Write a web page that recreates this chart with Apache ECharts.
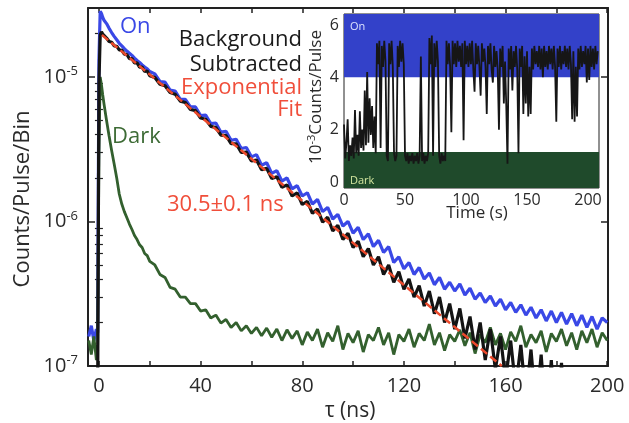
<!DOCTYPE html>
<html><head><meta charset="utf-8">
<script src="https://cdn.jsdelivr.net/npm/echarts@6/dist/echarts.min.js"></script>
<style>html,body{margin:0;padding:0;background:#fff}#c{width:629px;height:423px}</style>
</head><body><div id="c"></div>
<script>
// ---------- main decay plot data ----------
const tauNs = [-4,-3,-2,-1,-0.5,0,0.5,1,1.5,2,
  3,4,5,6,7,8,9,10,11,12,13,14,15,16,17,18,19,20,
  22,24,26,28,30,32,34,36,38,40,42,44,46,48,50,52,54,56,58,60,
  62,64,66,68,70,72,74,76,78,80,82,84,86,88,90,92,94,96,98,100,
  102,104,106,108,110,112,114,116,118,120,122,124,126,128,130,132,134,136,138,140,
  142,144,146,148,150,152,154,156,158,160,162,164,166,168,170,172,174,176,178,180,
  182,184,186,188,190,192,194,196,198,200];

const onCounts = [1.6e-7,1.9e-7,1.5e-7,1.8e-7,1.7e-7,1.3e-5,2.85e-5,2.75e-5,2.58e-5,2.47e-5,
  2.34e-5,2.17e-5,2.03e-5,1.91e-5,1.81e-5,1.71e-5,1.64e-5,1.57e-5,1.51e-5,1.46e-5,1.41e-5,1.35e-5,1.30e-5,1.26e-5,1.21e-5,1.17e-5,1.14e-5,1.09e-5,
  1.05e-5,9.3e-6,9.2e-6,8.1e-6,8.0e-6,7.0e-6,7.0e-6,6.2e-6,6.2e-6,5.4e-6,
  5.45e-6,4.75e-6,4.8e-6,4.15e-6,4.2e-6,3.65e-6,3.7e-6,3.2e-6,3.25e-6,2.8e-6,
  2.9e-6,2.45e-6,2.55e-6,2.15e-6,2.25e-6,1.9e-6,2.0e-6,1.68e-6,1.77e-6,1.5e-6,
  1.58e-6,1.32e-6,1.42e-6,1.17e-6,1.25e-6,1.04e-6,1.12e-6,9.3e-7,1.0e-6,8.3e-7,
  9.1e-7,7.5e-7,8.2e-7,6.7e-7,7.4e-7,6.1e-7,6.7e-7,5.2e-7,5.7e-7,4.7e-7,
  5.2e-7,4.3e-7,4.8e-7,4.0e-7,4.4e-7,3.65e-7,4.1e-7,3.4e-7,3.8e-7,3.3e-7,
  3.7e-7,3.1e-7,3.45e-7,2.9e-7,3.2e-7,2.75e-7,3.05e-7,2.6e-7,2.9e-7,2.45e-7,
  2.75e-7,2.35e-7,2.65e-7,2.25e-7,2.55e-7,2.15e-7,2.45e-7,2.05e-7,2.4e-7,2.0e-7,
  2.35e-7,1.95e-7,2.3e-7,1.9e-7,2.25e-7,1.85e-7,2.2e-7,1.8e-7,2.15e-7,2.0e-7];

const darkCounts = [1.5e-7,1.2e-7,1.6e-7,1.1e-7,1.4e-7,3.0e-6,1.0e-5,8.8e-6,7.5e-6,6.5e-6,
  5.0e-6,3.9e-6,3.1e-6,2.5e-6,2.0e-6,1.55e-6,1.32e-6,1.17e-6,1.06e-6,9.6e-7,8.8e-7,8.0e-7,7.5e-7,6.9e-7,6.6e-7,6.0e-7,5.8e-7,5.3e-7,
  5.0e-7,4.3e-7,4.1e-7,3.5e-7,3.4e-7,3.0e-7,3.0e-7,2.7e-7,2.7e-7,2.4e-7,
  2.45e-7,2.15e-7,2.25e-7,1.98e-7,2.1e-7,1.85e-7,2.0e-7,1.75e-7,1.9e-7,1.68e-7,
  1.85e-7,1.62e-7,1.83e-7,1.58e-7,1.8e-7,1.5e-7,1.78e-7,1.55e-7,1.75e-7,1.4e-7,
  1.72e-7,1.5e-7,1.8e-7,1.35e-7,1.7e-7,1.48e-7,1.9e-7,1.3e-7,1.68e-7,1.45e-7,
  1.75e-7,1.25e-7,1.65e-7,1.5e-7,1.85e-7,1.4e-7,1.7e-7,1.2e-7,1.65e-7,1.48e-7,
  1.8e-7,1.35e-7,1.68e-7,1.5e-7,1.95e-7,1.4e-7,1.7e-7,1.28e-7,1.65e-7,1.48e-7,
  1.78e-7,1.38e-7,1.7e-7,1.22e-7,1.65e-7,1.45e-7,1.85e-7,1.4e-7,1.68e-7,1.3e-7,
  1.72e-7,1.48e-7,1.9e-7,1.35e-7,1.65e-7,1.45e-7,1.75e-7,1.25e-7,1.68e-7,1.48e-7,
  1.8e-7,1.38e-7,1.7e-7,1.3e-7,1.75e-7,1.45e-7,1.8e-7,1.35e-7,1.7e-7,1.5e-7];

const bgSubCounts = [4e-8,3e-8,5e-8,4e-8,6e-8,9e-6,1.95e-5,2.05e-5,1.98e-5,1.96e-5,
  1.86e-5,1.76e-5,1.74e-5,1.64e-5,1.63e-5,1.54e-5,1.53e-5,1.44e-5,1.43e-5,1.34e-5,1.34e-5,1.25e-5,1.25e-5,1.17e-5,1.17e-5,1.09e-5,1.10e-5,1.02e-5,
  9.9e-6,8.9e-6,8.7e-6,7.8e-6,7.6e-6,6.8e-6,6.65e-6,5.95e-6,5.85e-6,5.2e-6,
  5.1e-6,4.55e-6,4.47e-6,3.96e-6,3.93e-6,3.45e-6,3.45e-6,3.0e-6,3.02e-6,2.62e-6,
  2.66e-6,2.28e-6,2.33e-6,1.98e-6,2.04e-6,1.72e-6,1.79e-6,1.50e-6,1.58e-6,1.31e-6,
  1.38e-6,1.14e-6,1.22e-6,9.9e-7,1.07e-6,8.6e-7,9.4e-7,7.5e-7,8.3e-7,6.6e-7,
  7.3e-7,5.7e-7,6.5e-7,5.0e-7,5.7e-7,4.3e-7,5.0e-7,3.8e-7,4.5e-7,3.4e-7,
  4.0e-7,3.0e-7,3.6e-7,2.6e-7,3.3e-7,2.3e-7,3.0e-7,2.0e-7,2.7e-7,1.8e-7,
  2.5e-7,1.55e-7,2.2e-7,1.3e-7,2.0e-7,1.1e-7,1.8e-7,9.5e-8,1.6e-7,8e-8,
  1.5e-7,7e-8,1.4e-7,6e-8,1.3e-7,5e-8,1.2e-7,4e-8,1.1e-7,3e-8,
  1.05e-7,3e-8,2e-8,2e-8,1.5e-8,2e-8,1e-8,2e-8,1e-8,2e-8];

const fitTauNs = [1.2, 158.5];
const fitCounts = [1.95e-5, 1.0e-7];

const xTickValues = [0,20,40,60,80,100,120,140,160,180,200];
const xLabelValues = [0,40,80,120,160,200];
const yMinorTickValues = [2e-7,3e-7,4e-7,5e-7,6e-7,7e-7,8e-7,9e-7,2e-6,3e-6,4e-6,5e-6,6e-6,7e-6,8e-6,9e-6,2e-5];

// ---------- inset time trace data ----------
const traceCounts = [
  2.2,0.9,1.5,2.4,0.8,1.4,1.0,1.7,0.9,2.75,
  1.1,1.8,1.0,2.7,1.3,2.0,1.2,3.5,1.4,4.2,
  1.5,3.2,1.8,2.9,1.3,2.5,1.1,5.3,4.5,5.4,
  1.3,5.2,4.4,5.4,4.6,1.0,0.8,5.3,4.5,5.4,
  4.4,1.1,0.8,1.0,5.2,4.4,5.4,4.6,5.3,4.5,
  1.0,0.8,1.1,0.7,1.0,0.8,1.1,0.7,1.0,0.8,
  1.1,0.7,1.0,4.8,0.8,1.1,0.7,1.0,0.8,1.1,
  5.5,4.5,5.6,1.0,5.3,4.4,5.4,4.6,1.0,0.7,
  1.1,0.8,1.0,0.8,5.4,4.5,5.3,4.4,1.9,5.4,
  4.5,5.3,4.4,5.4,4.6,5.2,4.4,5.3,1.6,5.4,
  4.5,5.2,4.4,5.3,4.5,5.4,4.3,3.45,5.3,4.5,
  5.2,4.4,3.3,5.3,4.6,5.1,4.4,2.6,5.2,4.5,
  5.3,4.3,3.8,5.2,4.4,5.0,4.3,2.0,5.1,4.4,
  5.2,3.0,4.6,2.9,0.7,5.1,4.3,5.2,3.5,5.0,
  4.4,5.2,4.3,1.1,5.1,4.4,5.2,2.6,4.8,3.0,
  5.0,2.5,4.4,2.6,5.1,4.3,5.2,4.5,5.0,4.4,
  5.2,4.3,5.1,4.0,5.2,4.4,5.0,4.3,5.2,4.5,
  5.1,4.3,5.2,4.4,2.3,5.1,4.4,5.2,4.3,5.0,
  4.5,5.2,4.4,5.1,4.3,5.2,4.5,2.4,5.0,2.3,
  4.4,2.5,5.1,4.3,5.2,4.4,5.0,4.5,5.2,3.8,
  5.1,3.9,5.2,4.4,5.1,4.3,5.2,4.5,5.0];
const traceTimeS = traceCounts.map((_, i) => i); // 1 s bins
const insetXLabels = [0,50,100,150,200];
const insetYLabels = [0,2,4,6];
const onLevel = 4.0, darkLevel = 1.15, insetYMin = -0.23, insetYMax = 6.42;

// ---------- chart ----------
const FONT = "'Open Sans', 'DejaVu Sans', sans-serif";
const AX = '#222';
const pairs = (xs, ys) => xs.map((x, i) => [x, ys[i]]);
const lg = v => Math.log10(v);

const mainX = (pos, labels) => ({
  type: 'value', gridIndex: 0, min: -4.3, max: 200.3, position: pos,
  axisLine: { show: true, onZero: false, lineStyle: { color: AX, width: 2 } },
  axisTick: { show: true, inside: true, length: 5, customValues: xTickValues, lineStyle: { color: AX, width: 1.5 } },
  axisLabel: labels ? { customValues: xLabelValues, fontSize: 20, color: '#2a2a2a', fontFamily: FONT, margin: 10 } : { show: false },
  splitLine: { show: false }
});
const powFmt = v => {
  const e = Math.round(Math.log10(v));
  if (Math.abs(v / Math.pow(10, e) - 1) > 1e-6) return '';
  return '{b|10}{s|' + e + '}';
};
const mainYLog = (pos, labels) => ({
  type: 'log', logBase: 10, gridIndex: 0, min: 1e-7, max: 3e-5, position: pos,
  axisLine: { show: true, onZero: false, lineStyle: { color: AX, width: 2 } },
  axisTick: { show: true, inside: true, length: 7, lineStyle: { color: AX, width: 1.5 } },
  axisLabel: labels ? {
    formatter: powFmt, margin: 10, color: '#2a2a2a',
    rich: { b: { fontSize: 20, fontFamily: FONT, color: '#2a2a2a', lineHeight: 24 },
            s: { fontSize: 13, fontFamily: FONT, color: '#2a2a2a', lineHeight: 13, verticalAlign: 'top' } }
  } : { show: false },
  splitLine: { show: false }, minorTick: { show: false }
});
const mainYMinor = (pos) => ({
  type: 'value', gridIndex: 0, min: -7, max: lg(3e-5), position: pos,
  axisLine: { show: false },
  axisTick: { show: true, inside: true, length: 4, customValues: yMinorTickValues.map(lg), lineStyle: { color: AX, width: 1.2 } },
  axisLabel: { show: false }, splitLine: { show: false }
});

const txt = (text, x, y, color, size, extra) => Object.assign({
  type: 'text', x: x, y: y, z: 100,
  style: Object.assign({ text: text, fill: color, fontSize: size, fontFamily: FONT,
    align: 'left', textAlign: 'left', verticalAlign: 'middle', textVerticalAlign: 'middle' }, (extra && extra.style) || {})
}, extra ? { rotation: extra.rotation || 0 } : {});

const option = {
  animation: false,
  backgroundColor: '#fff',
  grid: [
    { left: 88, top: 8, width: 520, height: 358, show: false },
    { left: 344, top: 14, width: 255, height: 174, show: true, borderColor: '#222', borderWidth: 1, backgroundColor: 'transparent' }
  ],
  xAxis: [
    mainX('bottom', true),
    mainX('top', false),
    { type: 'value', gridIndex: 1, min: 0, max: 209,
      axisLine: { show: false }, axisTick: { show: false },
      axisLabel: { customValues: insetXLabels, fontSize: 16, color: '#2a2a2a', fontFamily: FONT, margin: 4 },
      splitLine: { show: false } }
  ],
  yAxis: [
    mainYLog('left', true),
    mainYMinor('left'),
    mainYLog('right', false),
    mainYMinor('right'),
    { type: 'value', gridIndex: 1, min: insetYMin, max: insetYMax,
      axisLine: { show: false }, axisTick: { show: false },
      axisLabel: { customValues: insetYLabels, fontSize: 16, color: '#2a2a2a', fontFamily: FONT, margin: 5 },
      splitLine: { show: false } }
  ],
  series: [
    { name: 'On', type: 'line', xAxisIndex: 0, yAxisIndex: 0, data: pairs(tauNs, onCounts),
      showSymbol: false, lineStyle: { color: '#3a48e6', width: 3.2 }, z: 2 },
    { name: 'Dark', type: 'line', xAxisIndex: 0, yAxisIndex: 0, data: pairs(tauNs, darkCounts),
      showSymbol: false, lineStyle: { color: '#33602e', width: 2.8 }, z: 3 },
    { name: 'Background Subtracted', type: 'line', xAxisIndex: 0, yAxisIndex: 0, data: pairs(tauNs, bgSubCounts),
      showSymbol: false, lineStyle: { color: '#141414', width: 3.2 }, z: 4 },
    { name: 'Exponential Fit', type: 'line', xAxisIndex: 0, yAxisIndex: 0, data: pairs(fitTauNs, fitCounts),
      showSymbol: false, lineStyle: { color: '#ec4a2c', width: 2.5, type: [8, 4] }, z: 5 },
    { name: 'Trace', type: 'line', xAxisIndex: 2, yAxisIndex: 4, data: pairs(traceTimeS, traceCounts),
      showSymbol: false, lineStyle: { color: '#161616', width: 1.8 }, z: 6,
      markArea: { silent: true, data: [
        [{ yAxis: insetYMin, itemStyle: { color: '#1f4a2b' } }, { yAxis: darkLevel }],
        [{ yAxis: onLevel, itemStyle: { color: '#3341c9' } }, { yAxis: insetYMax }]
      ] } }
  ],
  graphic: [
    txt('On', 120, 27, '#3a48e6', 22),
    txt('Background', 302, 40, '#1a1a1a', 22, { style: { align: 'right', textAlign: 'right' } }),
    txt('Subtracted', 302, 65, '#1a1a1a', 22, { style: { align: 'right', textAlign: 'right' } }),
    txt('Exponential', 302, 88, '#f04e3a', 22, { style: { align: 'right', textAlign: 'right' } }),
    txt('Fit', 302, 110, '#f04e3a', 22, { style: { align: 'right', textAlign: 'right' } }),
    txt('Dark', 112, 137, '#3d6b35', 22),
    txt('30.5±0.1 ns', 167, 205, '#f04e3a', 22),
    txt('τ (ns)', 350, 411, '#2a2a2a', 21, { style: { align: 'center', textAlign: 'center' } }),
    txt('Counts/Pulse/Bin', 23, 199, '#2a2a2a', 22, { rotation: Math.PI / 2, style: { align: 'center', textAlign: 'center' } }),
    { type: 'text', x: 316, y: 97, rotation: Math.PI / 2, z: 100,
      style: { text: '{a|10}{s|-3}{a|Counts/Pulse}', align: 'center', textAlign: 'center', verticalAlign: 'middle', textVerticalAlign: 'middle',
        rich: { a: { fontSize: 17, fontFamily: FONT, fill: '#2a2a2a', color: '#2a2a2a', lineHeight: 20 },
                s: { fontSize: 11, fontFamily: FONT, fill: '#2a2a2a', color: '#2a2a2a', lineHeight: 11, verticalAlign: 'top' } } } },
    txt('Time (s)', 477, 213, '#2a2a2a', 17, { style: { align: 'center', textAlign: 'center' } }),
    txt('On', 350, 27, '#dde3ff', 11),
    txt('Dark', 350, 181, '#d4e6a0', 11)
  ]
};
const chart = echarts.init(document.getElementById('c'));
chart.setOption(option);
</script></body></html>
